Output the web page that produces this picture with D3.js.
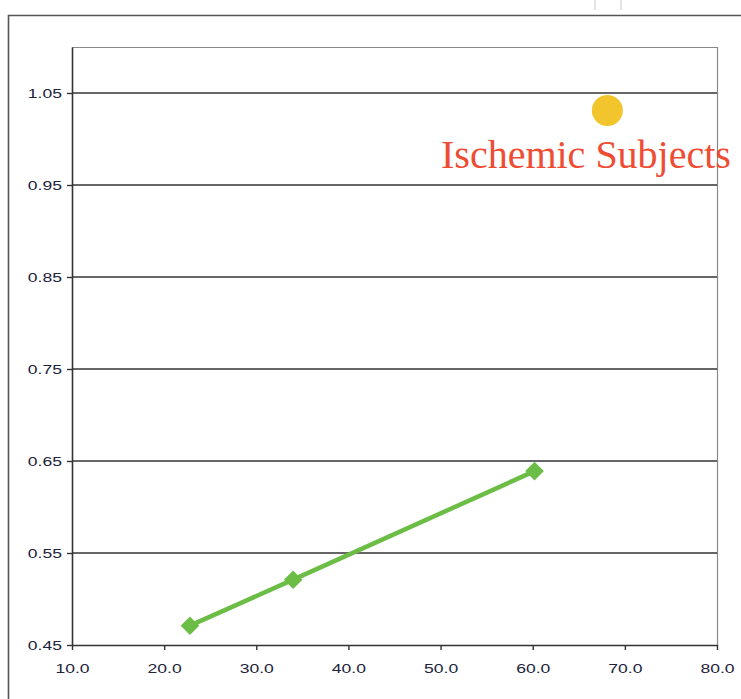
<!DOCTYPE html>
<html>
<head>
<meta charset="utf-8">
<script src="https://cdn.jsdelivr.net/npm/d3@7"></script>
<style>
  html, body { margin: 0; padding: 0; background: #fff; }
  svg { display: block; }
</style>
</head>
<body>
<svg id="chart" width="741" height="699"></svg>
<script>
// Measured series: age (x) vs ratio (y)
const seriesX = [22.8, 34.0, 60.2];
const seriesY = [0.471, 0.521, 0.639];

// Highlighted marker and its caption
const markerX = [68.1];
const markerY = [1.031];
const markerLabel = ["Ischemic Subjects"];

// Axis ticks
const xTicks = [10, 20, 30, 40, 50, 60, 70, 80];
const yTicks = [0.45, 0.55, 0.65, 0.75, 0.85, 0.95, 1.05];
const xDomain = [10, 80];
const yDomain = [0.45, 1.10];

const svg = d3.select("#chart");
const plot = { left: 72, right: 717, top: 47, bottom: 645 };

const x = d3.scaleLinear().domain(xDomain).range([plot.left, plot.right]);
const y = d3.scaleLinear().domain(yDomain).range([plot.bottom, plot.top]);

// faint vertical strokes along the top edge
svg.selectAll("line.faint").data([595, 621]).join("line")
  .attr("x1", d => d).attr("x2", d => d).attr("y1", 0).attr("y2", 10)
  .attr("stroke", "#e4e4e4").attr("stroke-width", 2);

// outer frame (open to the right and bottom)
svg.append("path")
  .attr("d", `M8.5,${699}V15.5H741`)
  .attr("fill", "none").attr("stroke", "#555").attr("stroke-width", 1.6);

// plot border: top and right in light grey
svg.append("path")
  .attr("d", `M${plot.left},${plot.top + 0.5}H${plot.right + 0.5}V${plot.bottom}`)
  .attr("fill", "none").attr("stroke", "#8a8a8a").attr("stroke-width", 1.2);

// horizontal gridlines
svg.selectAll("line.grid").data(yTicks.filter(t => t > yDomain[0])).join("line")
  .attr("class", "grid")
  .attr("x1", plot.left).attr("x2", plot.right)
  .attr("y1", d => y(d)).attr("y2", d => y(d))
  .attr("stroke", "#333").attr("stroke-width", 1.5);

// axes
const xAxis = d3.axisBottom(x).tickValues(xTicks).tickSizeInner(5).tickSizeOuter(0)
  .tickFormat(d3.format(".1f"));
const yAxis = d3.axisLeft(y).tickValues(yTicks).tickSizeInner(5).tickSizeOuter(0)
  .tickPadding(6).tickFormat(d3.format(".2f"));

const gx = svg.append("g").attr("transform", `translate(0,${plot.bottom})`).call(xAxis);
const gy = svg.append("g").attr("transform", `translate(${plot.left},0)`).call(yAxis);

[gx, gy].forEach(g => {
  g.select(".domain").attr("stroke", "#333").attr("stroke-width", 1.6);
  g.selectAll(".tick line").attr("stroke", "#333").attr("stroke-width", 1.4);
  g.selectAll(".tick text")
    .attr("fill", "#22223a")
    .attr("font-family", "'Liberation Sans', Arial, sans-serif")
    .attr("font-size", 13.5);
});
// widen the tick labels horizontally
gx.selectAll(".tick text")
  .attr("transform", "scale(1.3,1)").attr("x", 0).attr("y", 18).attr("dy", "0.71em");
gy.selectAll(".tick text")
  .attr("transform", "translate(-10,0) scale(1.3,1)").attr("x", 0);

// data line
const line = d3.line().x((d, i) => x(seriesX[i])).y((d, i) => y(seriesY[i]));
svg.append("path")
  .datum(seriesY)
  .attr("d", line)
  .attr("fill", "none")
  .attr("stroke", "#6cbd45")
  .attr("stroke-width", 4.5);

// diamond markers
const diamond = d3.symbol().type(d3.symbolDiamond2).size(220);
svg.selectAll("path.pt").data(seriesY).join("path")
  .attr("class", "pt")
  .attr("d", diamond)
  .attr("transform", (d, i) => `translate(${x(seriesX[i])},${y(d)})`)
  .attr("fill", "#6cbd45");

// highlighted marker
svg.selectAll("circle.mark").data(markerY).join("circle")
  .attr("class", "mark")
  .attr("cx", (d, i) => x(markerX[i]))
  .attr("cy", d => y(d))
  .attr("r", 15.5)
  .attr("fill", "#f3c52c");

svg.selectAll("text.caption").data(markerLabel).join("text")
  .attr("class", "caption")
  .attr("x", 441)
  .attr("y", 168)
  .attr("font-family", "'Liberation Serif', 'Times New Roman', serif")
  .attr("font-size", 40)
  .attr("fill", "#ee4c33")
  .text(d => d);
</script>
</body>
</html>
